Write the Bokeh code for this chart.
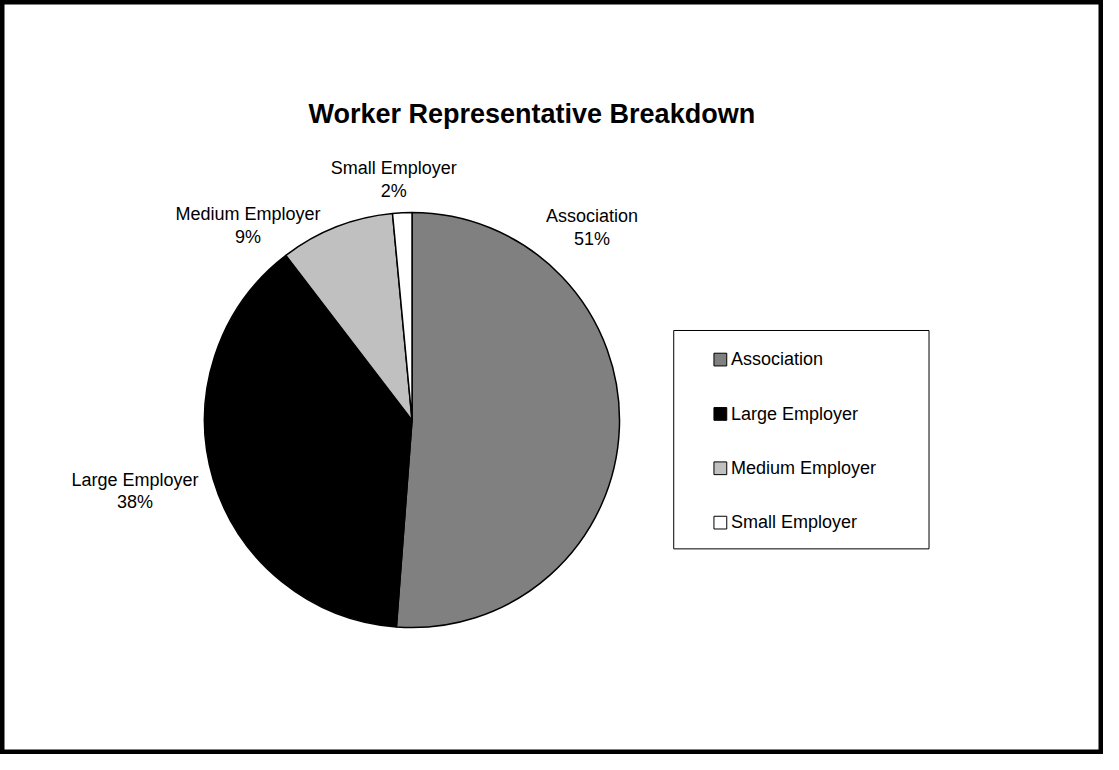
import math
from bokeh.plotting import figure
from bokeh.models import Range1d, ColumnDataSource
from bokeh.core.properties import value
from bokeh.embed import file_html
from bokeh.resources import INLINE

# ---- data ----
title_text = "Worker Representative Breakdown"
categories = ["Association", "Large Employer", "Medium Employer", "Small Employer"]
shares = [51.2, 38.4, 8.9, 1.5]
pct_labels = ["51%", "38%", "9%", "2%"]
colors = ["#808080", "#000000", "#C0C0C0", "#FFFFFF"]

# ---- layout (reference pixel coordinates, 1119 x 770 canvas) ----
W, H = 1103, 754
REF_W, REF_H = 1119, 770
FONT = value("Liberation Sans")
cx, cy, R = 417.5, 428.5, 210.5
label_pos = [(600, 227), (136.5, 496), (251, 225), (399, 178)]  # centre x, first-line baseline
line_gap = 23
BASE_FIX = 6.5     # baseline correction for the renderer
TITLE_FIX = 9

p = figure(width=W, height=H, x_range=Range1d(0, REF_W), y_range=Range1d(-REF_H, 0),
           output_backend="svg", toolbar_location=None, min_border=0)
p.axis.visible = False
p.grid.visible = False
p.outline_line_color = "black"
p.outline_line_width = 8
p.background_fill_color = "white"
p.border_fill_color = "white"

# ---- pie ----
total = sum(shares)
starts, ends = [], []
acc = 0.0
for s in shares:
    starts.append(math.pi / 2 - 2 * math.pi * acc / total)
    acc += s
    ends.append(math.pi / 2 - 2 * math.pi * acc / total)

src = ColumnDataSource(dict(cat=categories, color=colors, start=starts, end=ends))
p.wedge(x=cx, y=-cy, radius=R, start_angle="start", end_angle="end", direction="clock",
        fill_color="color", line_color="black", line_width=1.5, source=src)

# ---- slice labels ----
lsrc = ColumnDataSource(dict(
    x=[lp[0] for lp in label_pos],
    y1=[-(lp[1] - BASE_FIX) for lp in label_pos],
    y2=[-(lp[1] + line_gap - BASE_FIX) for lp in label_pos],
    name=categories, pct=pct_labels))
p.text(x="x", y="y1", text="name", source=lsrc, text_align="center", text_baseline="alphabetic",
       text_font=FONT, text_font_size="18px", text_color="black")
p.text(x="x", y="y2", text="pct", source=lsrc, text_align="center", text_baseline="alphabetic",
       text_font=FONT, text_font_size="18px", text_color="black")

# ---- title ----
p.text(x=[539], y=[-(125 - TITLE_FIX)], text=[title_text], text_align="center",
       text_baseline="alphabetic", text_font=FONT, text_font_size="27px",
       text_font_style="bold", text_color="black")

# ---- legend (manual) ----
p.quad(left=[683], right=[942], top=[-337], bottom=[-560], fill_color="white",
       line_color="black", line_width=1)
row0, row_step = 366.7, 55.5
leg = ColumnDataSource(dict(
    sx=[730.3] * len(categories),
    sy=[-(row0 + i * row_step) for i in range(len(categories))],
    tx=[741] * len(categories),
    ty=[-(row0 + 6.3 - BASE_FIX + i * row_step) for i in range(len(categories))],
    name=categories, color=colors))
p.rect(x="sx", y="sy", width=13, height=13, fill_color="color", line_color="black",
       line_width=1, source=leg)
p.text(x="tx", y="ty", text="name", source=leg, text_align="left", text_baseline="alphabetic",
       text_font=FONT, text_font_size="18px", text_color="black")

open("out.html", "w").write(file_html(p, INLINE))
